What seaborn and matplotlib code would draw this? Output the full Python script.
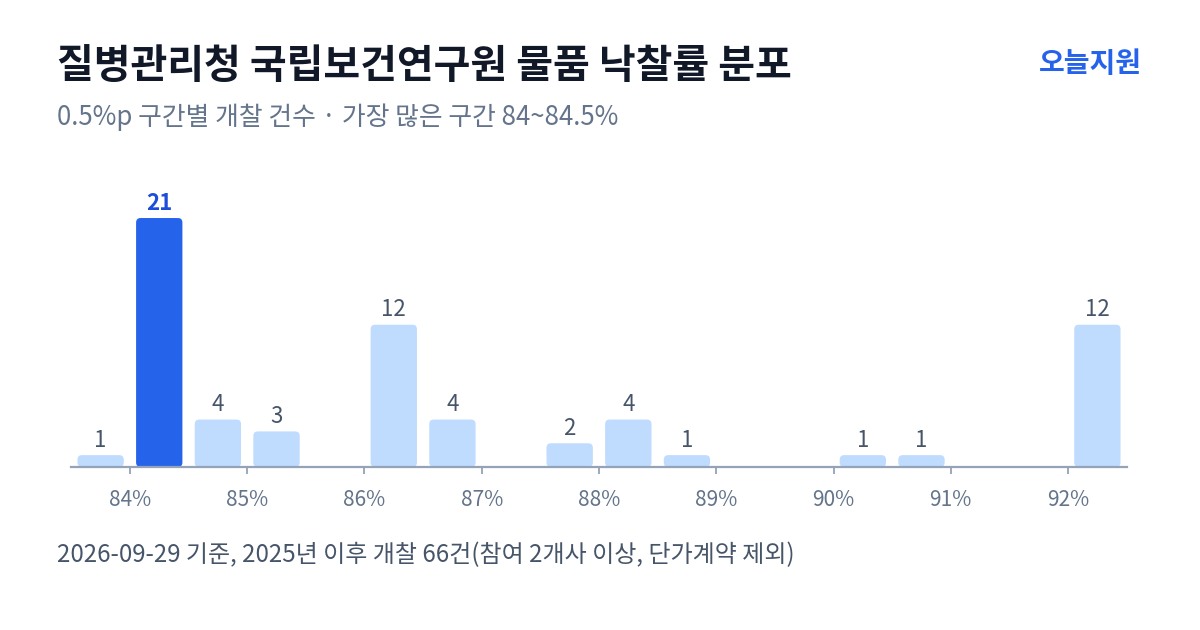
import numpy as np
import pandas as pd
import matplotlib
matplotlib.use("Agg")
import matplotlib.pyplot as plt
from matplotlib.patches import FancyBboxPatch
import seaborn as sns

# ---- data ----
bin_start = [83.5, 84.0, 84.5, 85.0, 86.0, 86.5, 87.5, 88.0, 88.5, 90.0, 90.5, 92.0]
counts = [1, 21, 4, 3, 12, 4, 2, 4, 1, 1, 1, 12]
bin_width = 0.5
tick_values = [84, 85, 86, 87, 88, 89, 90, 91, 92]
tick_labels = ["84%", "85%", "86%", "87%", "88%", "89%", "90%", "91%", "92%"]

title = "질병관리청 국립보건연구원 물품 낙찰률 분포"
subtitle = "0.5%p 구간별 개찰 건수 · 가장 많은 구간 84~84.5%"
brand = "오늘지원"
footer = "2026-09-29 기준, 2025년 이후 개찰 66건(참여 2개사 이상, 단가계약 제외)"

# ---- styling ----
sns.set_theme(style="white")
plt.rcParams["font.family"] = ["Noto Sans CJK KR", "DejaVu Sans"]

HI = "#2563EB"
LO = "#BFDBFE"
AXIS = "#94A3B8"
TICKTXT = "#64748B"
LABEL = "#475569"

df = pd.DataFrame({
    "center": [s + bin_width / 2 for s in bin_start],
    "count": counts,
})
max_c = max(counts)
df["hl"] = ["hi" if c == max_c else "lo" for c in counts]

W, H = 1200, 630
fig = plt.figure(figsize=(W / 100, H / 100), dpi=100)
x0, x1 = 83.5, 92.5
y0, y1 = 0, 25
ax_left_px, ax_right_px = 71.3, 1126.7
base_px, top_px = 467, 170.6
ax = fig.add_axes([ax_left_px / W, (H - base_px) / H,
                   (ax_right_px - ax_left_px) / W, (base_px - top_px) / H])

sns.barplot(data=df, x="center", y="count", hue="hl",
            palette={"hi": HI, "lo": LO}, native_scale=True,
            width=0.79, legend=False, ax=ax, saturation=1)

ax.set_xlim(x0, x1)
ax.set_ylim(y0, y1)

# rounded corners
px_per_x = (ax_right_px - ax_left_px) / (x1 - x0)
px_per_y = (base_px - top_px) / (y1 - y0)
r_px = 4.5
patches = list(ax.patches)
for p in patches:
    bx, by = p.get_x(), p.get_y()
    bw, bh = p.get_width(), p.get_height()
    fc = p.get_facecolor()
    p.remove()
    fb = FancyBboxPatch((bx, by), bw, bh,
                        boxstyle=f"round,pad=0,rounding_size={r_px / px_per_x}",
                        mutation_aspect=px_per_x / px_per_y,
                        facecolor=fc, edgecolor="none", linewidth=0, zorder=2)
    ax.add_patch(fb)

# value labels
for cx, c in zip(df["center"], df["count"]):
    is_hi = c == max_c
    ax.annotate(str(c), (cx, c), xytext=(0, 2.5), textcoords="offset points",
                ha="center", va="bottom", fontsize=16,
                fontweight="bold" if is_hi else "normal",
                color="#1D4ED8" if is_hi else LABEL)

for s in ["top", "right", "left"]:
    ax.spines[s].set_visible(False)
ax.spines["bottom"].set_color(AXIS)
ax.spines["bottom"].set_linewidth(1.6)
ax.spines["bottom"].set_zorder(3)
ax.set_yticks([])
ax.set_xticks(tick_values)
ax.set_xticklabels(tick_labels)
ax.tick_params(axis="x", bottom=True, length=5, width=1.3, color=AXIS,
               labelsize=15, labelcolor=TICKTXT, pad=10.5)
ax.set_xlabel("")
ax.set_ylabel("")
ax.patch.set_alpha(0)

# texts
fig.text(57 / W, 1 - 66 / H, title, fontsize=28.8, fontweight="bold",
         color="#111827", ha="left", va="center")
fig.text(57 / W, 1 - 117.5 / H, subtitle, fontsize=18.6,
         color=TICKTXT, ha="left", va="center")
fig.text(1142 / W, 1 - 64 / H, brand, fontsize=20.2, fontweight="bold",
         color=HI, ha="right", va="center")
fig.text(57 / W, 1 - 555 / H, footer, fontsize=17.3,
         color=LABEL, ha="left", va="center")

fig.savefig("out.png", dpi=100, facecolor="white")
